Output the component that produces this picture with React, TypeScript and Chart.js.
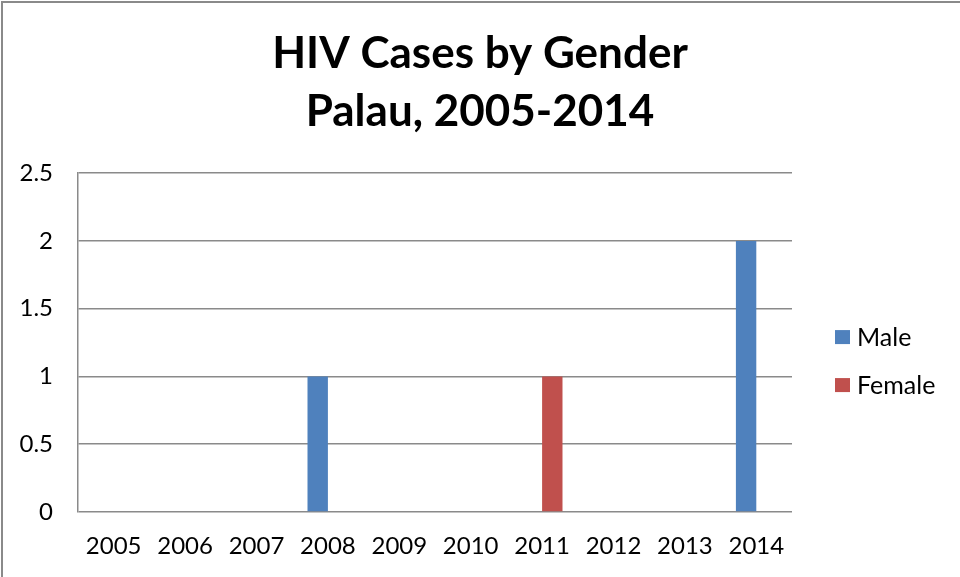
import React, { useEffect, useRef } from "react";
import { Chart, registerables } from "chart.js";

Chart.register(...registerables);

const years = ["2005", "2006", "2007", "2008", "2009", "2010", "2011", "2012", "2013", "2014"];
const maleCases = [0, 0, 0, 1, 0, 0, 0, 0, 0, 2];
const femaleCases = [0, 0, 0, 0, 0, 0, 1, 0, 0, 0];
const titleLines = ["HIV Cases by Gender", "Palau, 2005-2014"];

const FONT = "Lato, 'Open Sans', sans-serif";
const TICK_SIZE = 24;
const LEGEND_SIZE = 25;

const borderPlugin = {
  id: "outerBorder",
  afterDraw(chart: any) {
    const ctx = chart.ctx;
    ctx.save();
    ctx.strokeStyle = "#8a8a8a";
    ctx.lineWidth = 2;
    ctx.beginPath();
    ctx.moveTo(2, chart.height);
    ctx.lineTo(2, 2);
    ctx.lineTo(chart.width, 2);
    ctx.stroke();
    ctx.restore();
  },
};

// Legend drawn beside the plot area, entries taken from the datasets
const sideLegend = {
  id: "sideLegend",
  afterDraw(chart: any) {
    const ctx = chart.ctx;
    const area = chart.chartArea;
    const boxX = area.right + 43;
    const rowGap = 48;
    const firstY = (area.top + area.bottom) / 2 - 5.5;
    ctx.save();
    ctx.font = `${LEGEND_SIZE}px ${FONT}`;
    ctx.textBaseline = "middle";
    ctx.textAlign = "left";
    chart.data.datasets.forEach((ds: any, i: number) => {
      const y = firstY + i * rowGap;
      ctx.fillStyle = ds.backgroundColor;
      ctx.fillRect(boxX, y - 7, 15, 14);
      ctx.fillStyle = "#000";
      ctx.fillText(ds.label, boxX + 22, y + 1);
    });
    ctx.restore();
  },
};

export default function App() {
  const ref = useRef<HTMLCanvasElement | null>(null);
  useEffect(() => {
    document.body.style.margin = "0";
    const chart = new Chart(ref.current!, {
      type: "bar",
      data: {
        labels: years,
        datasets: [
          { label: "Male", data: maleCases, backgroundColor: "#4F81BD", categoryPercentage: 0.5714, barPercentage: 1 },
          { label: "Female", data: femaleCases, backgroundColor: "#C0504D", categoryPercentage: 0.5714, barPercentage: 1 },
        ],
      },
      options: {
        animation: false,
        responsive: false,
        layout: { padding: 0 },
        plugins: {
          title: {
            display: true,
            text: titleLines,
            color: "#000",
            font: { family: FONT, size: 44, weight: "bold", lineHeight: 1.32 },
            padding: { top: 25, bottom: 32 },
          },
          legend: { display: false },
          tooltip: { enabled: false },
        },
        scales: {
          x: {
            grid: { display: false, drawTicks: false },
            border: { display: false },
            ticks: { color: "#000", font: { family: FONT, size: TICK_SIZE }, padding: 20, maxRotation: 0 },
            afterFit(scale: any) {
              scale.height = 65;
            },
          },
          y: {
            min: 0,
            max: 2.5,
            ticks: {
              stepSize: 0.5,
              color: "#000",
              font: { family: FONT, size: TICK_SIZE },
              padding: 25,
              callback: (v: any) => String(v),
            },
            grid: { color: "#8a8a8a", lineWidth: 1.5, drawTicks: false },
            border: { display: true, color: "#8a8a8a", width: 1.5 },
            afterFit(scale: any) {
              scale.width = 78;
            },
          },
          // empty right-hand strip that holds the legend
          legendSpace: {
            type: "linear",
            position: "right",
            display: true,
            grid: { display: false, drawTicks: false },
            border: { display: false },
            ticks: { display: false },
            afterFit(scale: any) {
              scale.width = 168;
            },
          },
        },
      },
      plugins: [borderPlugin, sideLegend],
    });
    return () => chart.destroy();
  }, []);
  return (
    <div style={{ width: 960, height: 577, background: "#fff" }}>
      <canvas ref={ref} width={960} height={577} />
    </div>
  );
}
